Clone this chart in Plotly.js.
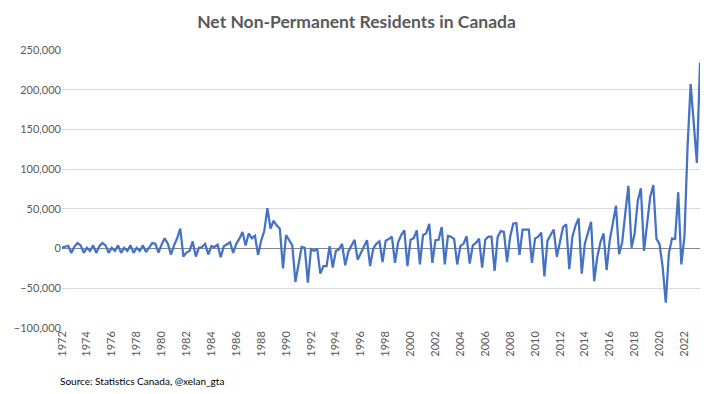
<!DOCTYPE html>
<html>
<head>
<meta charset="utf-8">
<script src="https://cdn.plot.ly/plotly-3.0.1.min.js"></script>
<style>html,body{margin:0;padding:0;background:#fff;}#chart{width:713px;height:394px;}</style>
</head>
<body>
<div id="chart"></div>
<script>
// Years covered (quarterly data, 1972 Q1 to 2023 Q2)
const years = [1972,1973,1974,1975,1976,1977,1978,1979,1980,1981,1982,1983,1984,1985,1986,1987,1988,1989,1990,1991,1992,1993,1994,1995,1996,1997,1998,1999,2000,2001,2002,2003,2004,2005,2006,2007,2008,2009,2010,2011,2012,2013,2014,2015,2016,2017,2018,2019,2020,2021,2022,2023];
const quartersInLastYear = 2;

// Net non-permanent residents per quarter (persons)
const netNPR = [
  1000, 2000, 3500, -5500,
  2500, 7000, 4000, -5500,
  1000, -3000, 4000, -5500,
  3000, 7000, 4000, -5500,
  1000, -3000, 4000, -5500,
  1000, -3000, 4000, -5500,
  1000, -3000, 4000, -4500,
  1000, 7000, 6000, -5000,
  5000, 13000, 6000, -7500,
  4000, 13000, 25000, -10000,
  -5000, -3000, 9000, -10000,
  1000, 2000, 6000, -7500,
  3000, 2000, 5000, -11000,
  3000, 5000, 8000, -5500,
  6000, 12500, 21000, 4000,
  19000, 13000, 16000, -8000,
  10000, 22000, 51000, 25000,
  35000, 29000, 25000, -25000,
  17000, 10500, 4000, -42000,
  -21000, 2000, 1000, -43000,
  -1000, -3000, 0, -31500,
  -22000, -22000, 3000, -24000,
  -3000, -1000, 6000, -21000,
  -4000, 3000, 11000, -14000,
  -6000, 3000, 10500, -22000,
  0, 6000, 9000, -17000,
  10000, 12000, 15000, -18000,
  8000, 17000, 23000, -22000,
  11000, 13000, 23000, -20000,
  17000, 19000, 31000, -18000,
  10500, 11000, 27000, -20000,
  16000, 15000, 12000, -20000,
  3000, 6000, 15500, -19000,
  4000, 7000, 12600, -24000,
  11000, 15000, 15000, -28000,
  15000, 22000, 21000, -17000,
  15000, 31500, 32000, -8000,
  24000, 24000, 24000, -18000,
  12600, 15000, 20000, -35000,
  10000, 17000, 24000, -10500,
  10500, 27000, 30600, -26000,
  15000, 29000, 38000, -31500,
  6000, 20000, 33600, -41000,
  -10500, 8000, 19000, -27000,
  10500, 32000, 54000, -7000,
  8000, 45000, 79000, 1000,
  19000, 60000, 76000, -3000,
  35000, 65000, 80000, 12600,
  5500, -23000, -68000, -6000,
  12600, 12000, 71000, -20000,
  15000, 128000, 207000, 160000,
  108000, 234000
];

// Category labels for each quarter
const quarterLabels = [];
years.forEach((y, k) => {
  const n = (k === years.length - 1) ? quartersInLastYear : 4;
  for (let q = 1; q <= n; q++) quarterLabels.push(y + ' Q' + q);
});

// X tick labels: every second year
const tickYears = [1972,1974,1976,1978,1980,1982,1984,1986,1988,1990,1992,1994,1996,1998,2000,2002,2004,2006,2008,2010,2012,2014,2016,2018,2020,2022];
const yTicks = [-100000,-50000,0,50000,100000,150000,200000,250000];

const trace = {
  x: quarterLabels,
  y: netNPR,
  type: 'scatter',
  mode: 'lines',
  line: {color: '#4472C4', width: 2.25},
  hoverinfo: 'x+y'
};

const layout = {
  width: 713, height: 394,
  margin: {l: 62, r: 13, t: 50, b: 66},
  paper_bgcolor: '#ffffff', plot_bgcolor: '#ffffff',
  font: {family: 'Lato, "Open Sans", sans-serif', color: '#595959', size: 11},
  title: {
    text: 'Net Non-Permanent Residents in Canada',
    font: {family: 'Lato, "Open Sans", sans-serif', size: 17.5, color: '#595959', weight: 'bold'},
    x: 0.5, xanchor: 'center', y: 0.945, yanchor: 'middle'
  },
  showlegend: false,
  xaxis: {
    type: 'category',
    range: [0, quarterLabels.length - 1],
    tickmode: 'array',
    tickvals: tickYears.map(y => y + ' Q1'),
    ticktext: tickYears.map(String),
    tickangle: -90,
    tickfont: {size: 11, color: '#595959'},
    showgrid: false, zeroline: false, showline: false, ticks: '',
    fixedrange: true
  },
  yaxis: {
    range: [-100000, 250000],
    tickmode: 'array',
    tickvals: yTicks,
    tickformat: ',d',
    tickfont: {size: 11, color: '#595959'},
    showgrid: true, gridcolor: '#d9d9d9', gridwidth: 1,
    zeroline: true, zerolinecolor: '#868686', zerolinewidth: 1,
    showline: false, ticks: '', ticklen: 0,
    fixedrange: true
  },
  annotations: [{
    text: 'Source: Statistics Canada, @xelan_gta',
    xref: 'paper', yref: 'paper',
    x: -4/638, y: -53/278, xanchor: 'left', yanchor: 'middle',
    showarrow: false,
    font: {family: 'Lato, "Open Sans", sans-serif', size: 10, color: '#000000'}
  }]
};

Plotly.newPlot('chart', [trace], layout, {displayModeBar: false, staticPlot: true});
</script>
</body>
</html>
